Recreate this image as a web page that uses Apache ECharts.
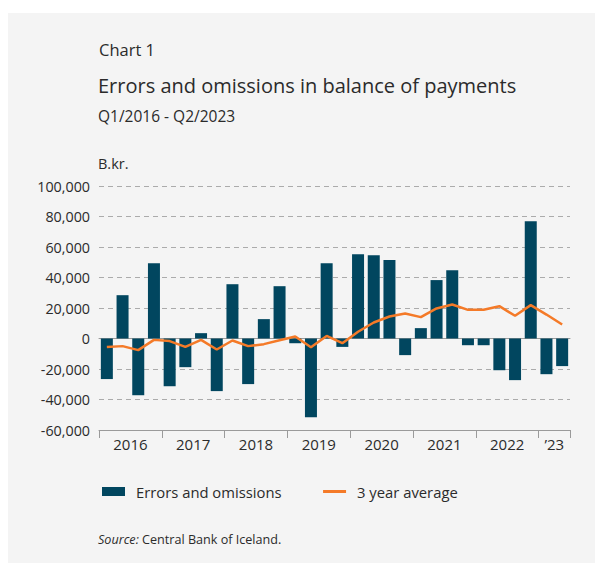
<!DOCTYPE html>
<html>
<head>
<meta charset="utf-8">
<script src="https://cdn.jsdelivr.net/npm/echarts@6/dist/echarts.min.js"></script>
<style>
html,body{margin:0;padding:0;background:#ffffff;}
#chart{width:595px;height:563px;}
</style>
</head>
<body>
<div id="chart"></div>
<script>
const quarters = ["Q1 2016","Q2 2016","Q3 2016","Q4 2016","Q1 2017","Q2 2017","Q3 2017","Q4 2017",
  "Q1 2018","Q2 2018","Q3 2018","Q4 2018","Q1 2019","Q2 2019","Q3 2019","Q4 2019",
  "Q1 2020","Q2 2020","Q3 2020","Q4 2020","Q1 2021","Q2 2021","Q3 2021","Q4 2021",
  "Q1 2022","Q2 2022","Q3 2022","Q4 2022","Q1 2023","Q2 2023"];
const errorsOmissions = [-26600, 28400, -37200, 49400, -31300, -18800, 3500, -34500,
  35600, -29900, 12700, 34300, -3100, -51600, 49400, -5500,
  55300, 54600, 51400, -10900, 6800, 38300, 44800, -4400,
  -4400, -20800, -27300, 76900, -23400, -18100];
const threeYearAvg = [-5500, -5000, -7600, -900, -1700, -5500, -900, -7200,
  -1300, -5000, -3700, -1100, 1300, -5700, 1700, -3100,
  4400, 10500, 14400, 16400, 14000, 19700, 22300, 18800,
  18800, 21200, 14900, 21900, 15700, 9200];
const yearLabels = ["2016","2017","2018","2019","2020","2021","2022","\u201923"];
const yearLabelPos = [2, 6, 10, 14, 18, 22, 26, 29];
const yearTickPos = [0, 4, 8, 12, 16, 20, 24, 28, 30];

const FONT = "'Open Sans', 'Noto Sans', sans-serif";
const TXT = '#2b2b2b';

const chart = echarts.init(document.getElementById('chart'), null, {renderer: 'svg'});
chart.setOption({
  backgroundColor: '#ffffff',
  animation: false,
  graphic: [{
    type: 'rect', left: 8, top: 13, z: -10,
    shape: {width: 587, height: 550},
    style: {fill: '#f4f4f4'}
  }],
  title: [
    {text: 'Chart 1', left: 94, top: 36, padding: [5, 5, 5, 5], textStyle: {fontFamily: FONT, fontSize: 16.5, fontWeight: 'normal', color: TXT}},
    {text: 'Errors and omissions in balance of payments', left: 93, top: 70, textStyle: {fontFamily: FONT, fontSize: 20, fontWeight: 'normal', color: TXT}},
    {text: 'Q1/2016 - Q2/2023', left: 93, top: 103, textStyle: {fontFamily: FONT, fontSize: 15.5, fontWeight: 'normal', color: TXT}},
    {text: 'B.kr.', left: 93, top: 151, textStyle: {fontFamily: FONT, fontSize: 14.5, fontWeight: 'normal', color: TXT}},
    {text: '{i|Source:} Central Bank of Iceland.', left: 93, top: 528,
      textStyle: {fontFamily: FONT, fontSize: 12.6, fontWeight: 'normal', color: TXT,
        rich: {i: {fontFamily: FONT, fontSize: 12.6, fontStyle: 'italic', color: TXT}}}}
  ],
  legend: {
    left: 102, top: 484, padding: 0,
    itemWidth: 23, itemHeight: 9, itemGap: 40,
    textStyle: {fontFamily: FONT, fontSize: 14.8, color: TXT, padding: [0, 0, 0, 6]},
    data: [
      {name: 'Errors and omissions', icon: 'rect'},
      {name: '3 year average', itemStyle: {opacity: 0}, lineStyle: {color: '#f47a28', width: 3}}
    ]
  },
  grid: {left: 99, right: 25, top: 186, bottom: 133, containLabel: false},
  xAxis: [
    {
      type: 'category', data: quarters, boundaryGap: true, position: 'bottom',
      axisLine: {show: true, onZero: true, lineStyle: {color: '#9a9a9a', width: 1}},
      axisTick: {show: false}, axisLabel: {show: false}, splitLine: {show: false}
    },
    {
      type: 'value', min: 0, max: 30, position: 'bottom',
      axisLine: {show: true, onZero: false, lineStyle: {color: '#9a9a9a', width: 1}},
      axisTick: {show: true, length: 8, customValues: yearTickPos, lineStyle: {color: '#9a9a9a'}},
      axisLabel: {show: true, customValues: yearLabelPos, margin: 6,
        fontFamily: FONT, fontSize: 15, color: TXT,
        formatter: function (v) { const k = yearLabelPos.indexOf(v); return k >= 0 ? yearLabels[k] : ''; }},
      splitLine: {show: false}
    }
  ],
  yAxis: {
    type: 'value', min: -60000, max: 100000, interval: 20000,
    axisLine: {show: false}, axisTick: {show: false},
    axisLabel: {margin: 9, fontFamily: FONT, fontSize: 14.3, color: TXT,
      formatter: function (v) { return v.toLocaleString('en-US'); }},
    splitLine: {show: true, lineStyle: {color: '#ababab', width: 1, type: [5, 4]}}
  },
  series: [
    {
      name: 'Errors and omissions', type: 'bar', xAxisIndex: 0, data: errorsOmissions,
      barWidth: 12, itemStyle: {color: '#01465f'}
    },
    {
      name: '3 year average', type: 'line', xAxisIndex: 0, data: threeYearAvg,
      symbol: 'none', showSymbol: false, z: 5,
      lineStyle: {color: '#f47a28', width: 2.5}, itemStyle: {color: '#f47a28'}
    }
  ]
});
</script>
</body>
</html>
